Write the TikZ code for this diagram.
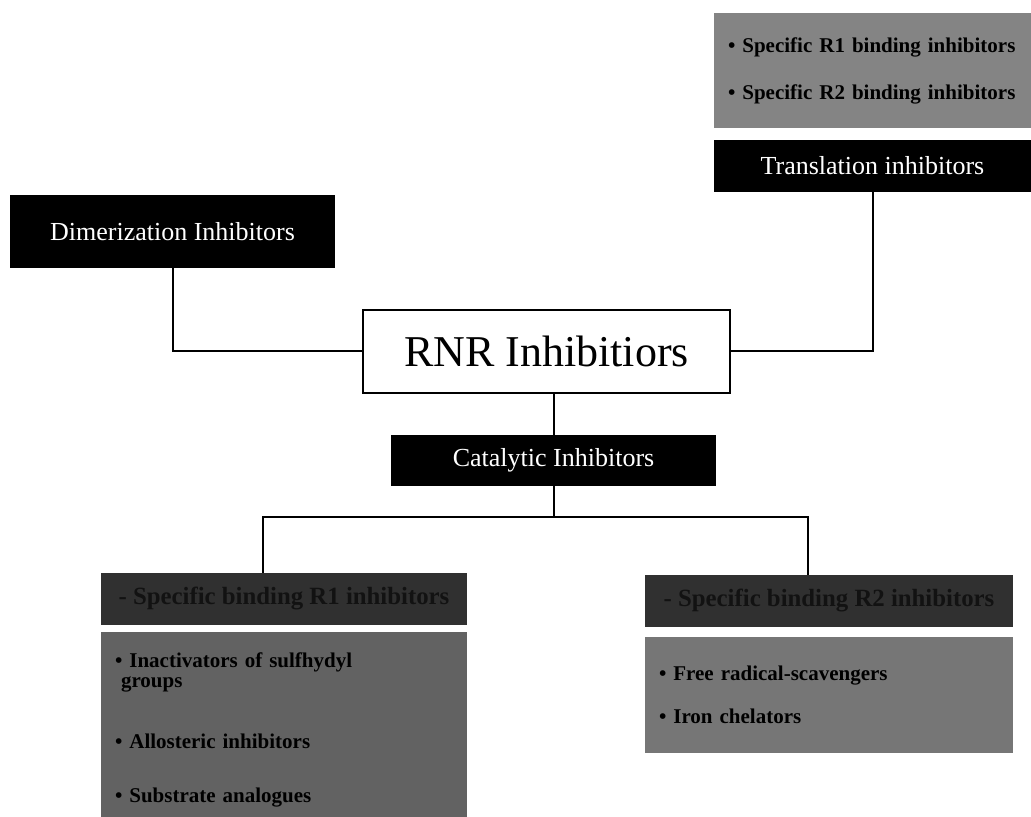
\documentclass[tikz,border=0pt]{standalone}
\usepackage{fontspec}
\setmainfont{Liberation Serif}
\usetikzlibrary{positioning}
\definecolor{rnrtopgray}{RGB}{132,132,132}
\definecolor{rnrleftgray}{RGB}{98,98,98}
\definecolor{rnrrightgray}{RGB}{118,118,118}
\definecolor{rnrhead}{RGB}{48,48,48}
\definecolor{rnrheadtext}{RGB}{18,18,18}

\begin{document}
\begin{tikzpicture}[x=0.5pt, y=-0.5pt,
    blackbox/.style={fill=black, text=white, minimum height=26pt, inner sep=0pt, font=\fontsize{13}{15}\selectfont},
    rootbox/.style={draw, line width=1pt, fill=white, minimum width=183.5pt, minimum height=41.5pt, inner sep=0pt, font=\fontsize{22}{26}\selectfont},
    headbox/.style={fill=rnrhead, text=rnrheadtext, minimum height=26pt, inner sep=0pt, font=\bfseries\fontsize{12.4}{14}\selectfont},
    listbox/.style={align=left, inner xsep=7pt, inner ysep=0pt, text=black, font=\bfseries\fontsize{10.5}{10}\selectfont},
    link/.style={line width=1pt}
  ]
  \useasboundingbox (0,0) rectangle (1031,817);

  % top row
  \node[blackbox, minimum width=162.5pt, minimum height=36.5pt] (dimer) at (172.5,231.5) {Dimerization Inhibitors};
  \node[listbox, fill=rnrtopgray, text width=144.5pt, minimum height=57.5pt] (transl list) at (872.5,70.5)
    {\textbullet{} Specific R1 binding inhibitors\\[13.5pt]\textbullet{} Specific R2 binding inhibitors};
  \node[blackbox, minimum width=158.5pt] (transl) at (872.5,166) {Translation inhibitors};

  % root
  \node[rootbox] (rnr) at (546.5,351.5) {RNR Inhibitiors};
  \node[blackbox, minimum width=162.5pt, minimum height=25.5pt] (catal) at (553.5,460.5) {Catalytic Inhibitors};

  % bottom branches
  \node[headbox, minimum width=183pt] (r1head) at (284,599) {- Specific binding R1 inhibitors};
  \node[listbox, fill=rnrleftgray, text width=169pt, minimum height=92.5pt] (r1list) at (284,724.5)
    {\rule{0pt}{13.3pt}\textbullet{} Inactivators of sulfhydyl\\\hspace*{3pt}groups\\[20.5pt]\textbullet{} Allosteric inhibitors\\[17pt]\textbullet{} Substrate analogues};
  \node[headbox, minimum width=184pt] (r2head) at (829,601) {- Specific binding R2 inhibitors};
  \node[listbox, fill=rnrrightgray, text width=170pt, minimum height=58pt] (r2list) at (829,695)
    {\textbullet{} Free radical-scavengers\\[11.5pt]\textbullet{} Iron chelators};

  % connectors
  \draw[link] (dimer.south) |- (rnr.west);
  \draw[link] (transl.south) |- (rnr.east);
  \draw[link] (catal.north) -- (catal.north |- rnr.south);

  \coordinate (split) at (553.5,517);
  \coordinate (splitl) at (263,517);
  \coordinate (splitr) at (808,517);
  \draw[link] (catal.south) -- (split);
  \draw[link] (splitl |- r1head.north) -- (splitl) -- (splitr) -- (splitr |- r2head.north);
\end{tikzpicture}
\end{document}
